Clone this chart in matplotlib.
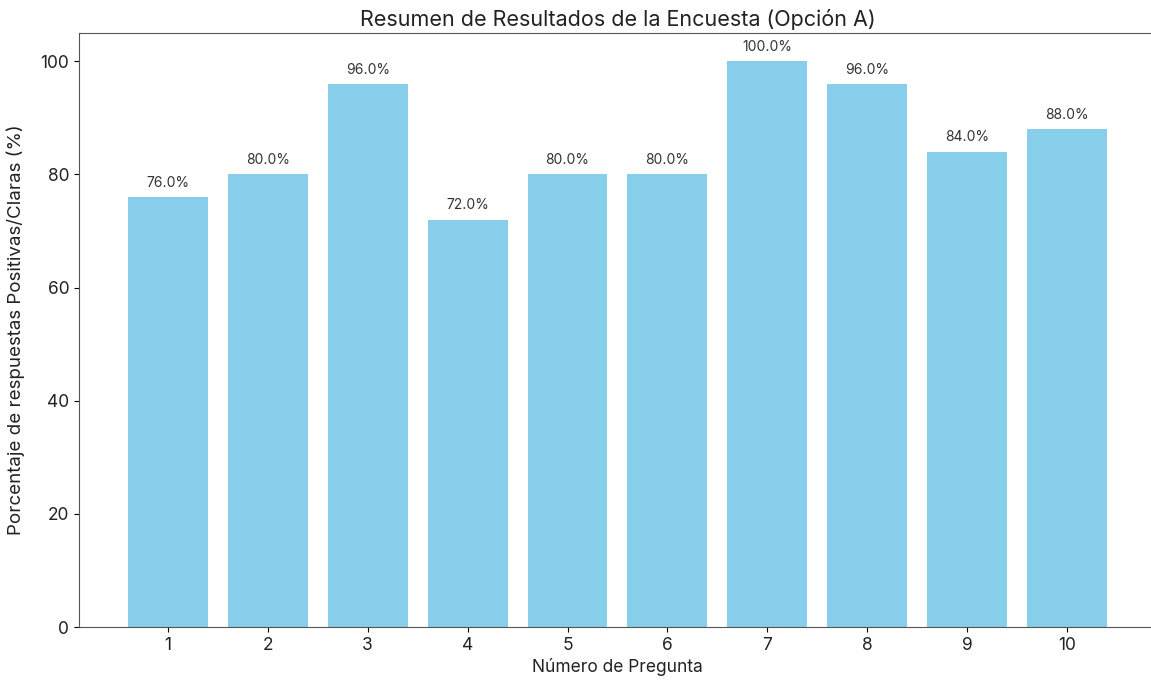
import matplotlib
matplotlib.use('Agg')
import matplotlib.pyplot as plt

# survey results
preguntas = [1, 2, 3, 4, 5, 6, 7, 8, 9, 10]
porcentajes = [76.0, 80.0, 96.0, 72.0, 80.0, 80.0, 100.0, 96.0, 84.0, 88.0]

plt.rcParams['font.family'] = ['Inter', 'DejaVu Sans']
plt.rcParams['text.color'] = '#222222'
plt.rcParams['axes.labelcolor'] = '#222222'
plt.rcParams['xtick.labelcolor'] = '#222222'
plt.rcParams['ytick.labelcolor'] = '#222222'

fig = plt.figure(figsize=(11.51, 6.8), dpi=100)
# axes run a little past the right edge, like the reference crop
ax = fig.add_axes([0.0686, 0.0779, 0.9357, 0.8735])

bars = ax.bar(preguntas, porcentajes, color='skyblue', width=0.8)

for b, v in zip(bars, porcentajes):
    ax.text(b.get_x() + b.get_width() / 2, v + 1.3, f'{v:.1f}%',
            ha='center', va='bottom', fontsize=10, color='#333333')

ax.set_xticks(preguntas)
ax.set_ylim(0, 105)
ax.set_title('Resumen de Resultados de la Encuesta (Opción A)', fontsize=15.5, pad=5)
ax.set_xlabel('Número de Pregunta', fontsize=12.5, labelpad=3)
ax.set_ylabel('Porcentaje de respuestas Positivas/Claras (%)', fontsize=13.5, labelpad=11)
ax.tick_params(labelsize=12.5)

for s in ax.spines.values():
    s.set_color('#555555')
# right spine falls outside the cropped picture
ax.spines['right'].set_visible(False)

plt.savefig('out.png', dpi=100)
